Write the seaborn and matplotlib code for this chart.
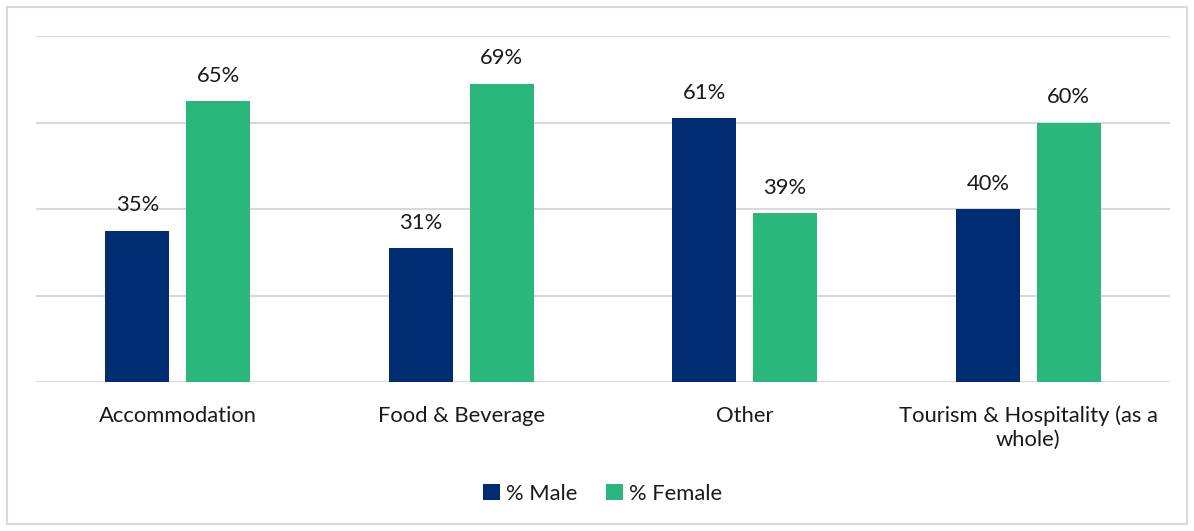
import matplotlib
matplotlib.use("Agg")
import matplotlib.pyplot as plt
from matplotlib.patches import Rectangle
import seaborn as sns
import pandas as pd

categories = ["Accommodation", "Food & Beverage", "Other", "Tourism & Hospitality (as a\nwhole)"]
series_names = ["% Male", "% Female"]
male = [35, 31, 61, 40]
female = [65, 69, 39, 60]
colors = ["#002D72", "#2AB77B"]

df = pd.DataFrame({
    "cat": categories * 2,
    "series": [series_names[0]] * 4 + [series_names[1]] * 4,
    "val": male + female,
})

sns.set_theme(style="white")
plt.rcParams["font.family"] = ["Lato", "DejaVu Sans"]
fs = 15.8

fig = plt.figure(figsize=(11.94, 5.31), dpi=100)
ax = fig.add_axes([36/1194, 1 - 382/531, (1170-36)/1194, (382-36)/531])

sns.barplot(data=df, x="cat", y="val", hue="series", order=categories,
            hue_order=series_names, palette=colors, width=0.57, gap=0.21,
            saturation=1, linewidth=0, ax=ax, legend=True)

ax.set_ylim(0, 80)
ax.set_xlim(-0.5, 3.5)
ax.set_yticks([0, 20, 40, 60, 80])
ax.yaxis.grid(True, color="#D9D9D9", linewidth=1.5)
ax.set_axisbelow(True)
ax.tick_params(axis="y", left=False, labelleft=False)
ax.tick_params(axis="x", bottom=False, labelsize=fs, colors="#1a1a1a", pad=11)
for lbl in ax.get_xticklabels():
    lbl.set_linespacing(1.2)
for s in ax.spines.values():
    s.set_visible(False)
ax.set_xlabel("")
ax.set_ylabel("")

for cont in ax.containers:
    ax.bar_label(cont, labels=[f"{v:.0f}%" for v in cont.datavalues],
                 padding=11, fontsize=fs, color="#1a1a1a")

leg = ax.legend(loc="center", bbox_to_anchor=(0.5, (382-494)/346), ncol=2,
                frameon=False, fontsize=fs, handlelength=0.75, handleheight=0.75,
                handletextpad=0.3, columnspacing=1.3)
for t in leg.get_texts():
    t.set_color("#1a1a1a")

fig.patches.append(Rectangle((7/1194, 1 - 524/531), (1187-7)/1194, (524-7)/531,
                             transform=fig.transFigure, fill=False,
                             edgecolor="#D9D9D9", linewidth=1.5))

fig.savefig("out.png", dpi=100)
